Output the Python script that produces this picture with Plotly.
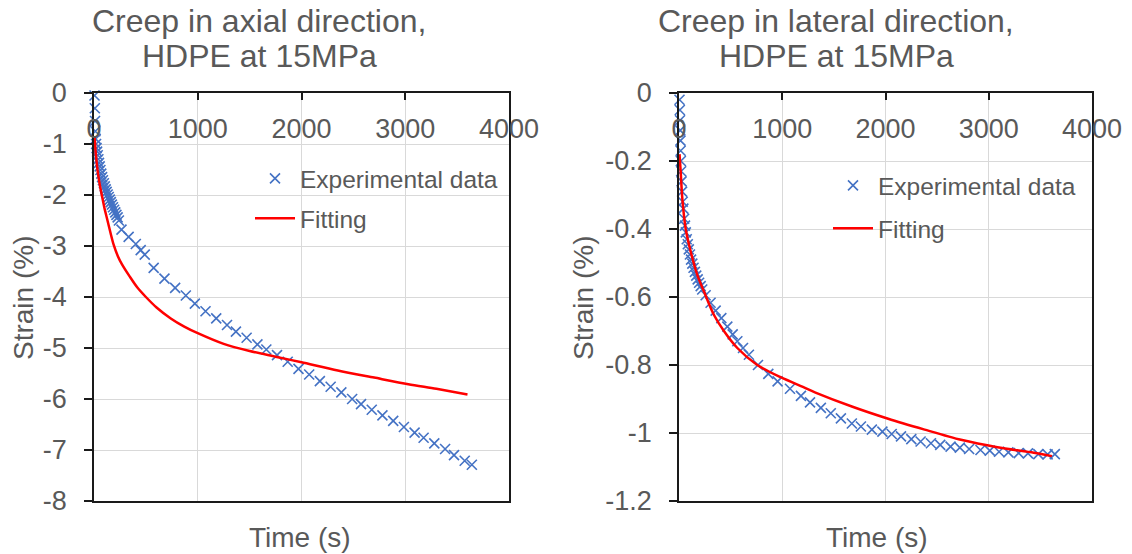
import plotly.graph_objects as go

# ---------------- data ----------------
# Axial direction (left)
axial_exp_t = [5, 8, 10, 13, 16, 20, 25, 30, 36, 42, 48, 55, 62, 70, 78, 86, 95, 104, 113, 122,
               132, 142, 152, 162, 172, 183, 194, 205, 216, 228, 240,
               265, 334, 403, 450, 489, 575, 679, 782, 885, 972, 1075, 1178, 1282, 1368, 1471,
               1575, 1661, 1764, 1867, 1971, 2074, 2177, 2281, 2384, 2488, 2574, 2677, 2780,
               2884, 2987, 3090, 3177, 3280, 3384, 3470, 3573, 3642]
axial_exp_y = [-0.05, -0.3, -0.55, -0.75, -0.9, -1.0, -1.08, -1.15, -1.22, -1.3, -1.37, -1.44,
               -1.51, -1.58, -1.65, -1.71, -1.77, -1.83, -1.89, -1.94,
               -1.99, -2.04, -2.09, -2.14, -2.19, -2.24, -2.29, -2.34, -2.39, -2.44, -2.5,
               -2.68, -2.82, -2.96, -3.08, -3.17, -3.43, -3.64, -3.82, -3.97, -4.13, -4.28, -4.42,
               -4.55, -4.68, -4.8, -4.93, -5.03, -5.14, -5.27, -5.41, -5.52, -5.65, -5.76, -5.87,
               -6.0, -6.1, -6.21, -6.32, -6.43, -6.55, -6.66, -6.76, -6.87, -6.98, -7.1, -7.21,
               -7.29]
axial_fit_t = [5, 20, 40, 60, 80, 100, 130, 160, 190, 230, 270, 345, 420, 500, 600, 740, 870,
               1000, 1250, 1500, 1750, 2000, 2350, 2700, 3030, 3300, 3600]
axial_fit_y = [-0.85, -1.25, -1.6, -1.85, -2.05, -2.25, -2.5, -2.75, -2.98, -3.2, -3.36, -3.6,
               -3.82, -4.0, -4.2, -4.42, -4.58, -4.71, -4.92, -5.06, -5.17, -5.28, -5.44, -5.58,
               -5.71, -5.8, -5.91]

# Lateral direction (right)
lateral_exp_t = [5, 8, 10, 12, 14, 16, 18, 21, 25, 30, 36, 42, 50, 58, 66, 75, 85, 95, 106, 117,
                 129, 141, 154, 167, 181, 195, 210, 225,
                 258, 306, 355, 410, 468, 520, 565, 620, 677, 765, 865, 955, 1075, 1181, 1269,
                 1374, 1470, 1568, 1674, 1762, 1868, 1970, 2060, 2150, 2250, 2340, 2440, 2530,
                 2630, 2720, 2810, 2920, 3010, 3100, 3190, 3290, 3380, 3480, 3570, 3640]
lateral_exp_y = [-0.02, -0.05, -0.08, -0.11, -0.14, -0.17, -0.2, -0.23, -0.26, -0.29, -0.32,
                 -0.34, -0.37, -0.39, -0.41, -0.43, -0.445, -0.46, -0.475, -0.49, -0.502, -0.514,
                 -0.526, -0.537, -0.548, -0.558, -0.568, -0.578,
                 -0.595, -0.617, -0.64, -0.662, -0.687, -0.71, -0.73, -0.75, -0.77, -0.8, -0.826,
                 -0.848, -0.87, -0.891, -0.91, -0.926, -0.942, -0.957, -0.972, -0.981, -0.99,
                 -0.996, -1.003, -1.01, -1.018, -1.025, -1.03, -1.035, -1.04, -1.043, -1.047,
                 -1.05, -1.052, -1.055, -1.057, -1.059, -1.06, -1.062, -1.063, -1.062]
lateral_fit_t = [5, 16, 32, 65, 113, 177, 242, 339, 435, 565, 758, 984, 1210, 1322, 1674, 2026,
                 2379, 2731, 3084, 3436, 3612]
lateral_fit_y = [-0.18, -0.23, -0.31, -0.4, -0.466, -0.535, -0.584, -0.653, -0.7, -0.75, -0.8,
                 -0.836, -0.866, -0.881, -0.922, -0.958, -0.99, -1.02, -1.042, -1.058, -1.068]

x_ticks = [0, 1000, 2000, 3000, 4000]
x_tick_labels = ["0", "1000", "2000", "3000", "4000"]
axial_y_ticks = [0, -1, -2, -3, -4, -5, -6, -7, -8]
axial_y_labels = ["0", "-1", "-2", "-3", "-4", "-5", "-6", "-7", "-8"]
lateral_y_ticks = [0, -0.2, -0.4, -0.6, -0.8, -1.0, -1.2]
lateral_y_labels = ["0", "-0.2", "-0.4", "-0.6", "-0.8", "-1", "-1.2"]

titles = [["Creep in axial direction,", "HDPE at 15MPa"],
          ["Creep in lateral direction,", "HDPE at 15MPa"]]
x_title = "Time (s)"
y_title = "Strain (%)"
exp_name = "Experimental data"
fit_name = "Fitting"

# ---------------- styling ----------------
W, H = 1132, 554
FONT = "Liberation Sans, Arial, sans-serif"
TXT = "#595959"
BLUE = "#4472C4"
RED = "#FF0000"
GRID = "#d9d9d9"
LINE = "#1a1a1a"

def px_x(p):
    return p / W

def px_y(p):
    return 1 - p / H

left_dom = [px_x(94), px_x(509)]
right_dom = [px_x(679), px_x(1092)]
y_dom = [px_y(501), px_y(93)]

fig = go.Figure()

marker = dict(symbol="x-thin", size=10, color=BLUE, line=dict(width=1.6, color=BLUE))

fig.add_trace(go.Scatter(x=axial_exp_t, y=axial_exp_y, mode="markers", name=exp_name,
                         marker=marker, xaxis="x", yaxis="y", legend="legend",
                         legendgroup="a1", cliponaxis=False))
fig.add_trace(go.Scatter(x=axial_fit_t, y=axial_fit_y, mode="lines", name=fit_name,
                         line=dict(color=RED, width=2.5, shape="spline", smoothing=0.8),
                         xaxis="x", yaxis="y",
                         legend="legend", legendgroup="a2", cliponaxis=False))
fig.add_trace(go.Scatter(x=lateral_exp_t, y=lateral_exp_y, mode="markers", name=exp_name,
                         marker=marker, xaxis="x2", yaxis="y2", legend="legend2",
                         legendgroup="b1", cliponaxis=False))
fig.add_trace(go.Scatter(x=lateral_fit_t, y=lateral_fit_y, mode="lines", name=fit_name,
                         line=dict(color=RED, width=2.5, shape="spline", smoothing=0.8),
                         xaxis="x2", yaxis="y2",
                         legend="legend2", legendgroup="b2", cliponaxis=False))

tickfont = dict(family=FONT, size=27, color=TXT)

def xaxis(domain, anchor):
    return dict(domain=domain, anchor=anchor, side="top", range=[0, 4000],
                tickvals=x_ticks, ticktext=x_tick_labels, tickfont=tickfont,
                ticks="inside", ticklen=7, tickwidth=1.5, tickcolor=LINE,
                ticklabelposition="inside", ticklabeloverflow="allow", ticklabelstandoff=22,
                showline=True, linecolor=LINE, linewidth=1.5, mirror=True,
                showgrid=True, gridcolor=GRID, gridwidth=1, zeroline=False, fixedrange=True,
                automargin=False)

def yaxis(anchor, rng, vals, labels):
    return dict(domain=y_dom, anchor=anchor, range=rng, tickvals=vals, ticktext=labels,
                tickfont=tickfont, ticks="outside", ticklen=8, tickwidth=1.5, tickcolor=LINE,
                ticklabelstandoff=12,
                showline=True, linecolor=LINE, linewidth=1.5, mirror=True,
                showgrid=True, gridcolor=GRID, gridwidth=1, zeroline=False, fixedrange=True,
                automargin=False)

legend_font = dict(family=FONT, size=24.5, color=TXT)

fig.update_layout(
    width=W, height=H, autosize=False,
    margin=dict(l=0, r=0, t=0, b=0, pad=0, autoexpand=False),
    paper_bgcolor="white", plot_bgcolor="white", showlegend=True,
    xaxis=xaxis(left_dom, "y"),
    yaxis=yaxis("x", [-8, 0], axial_y_ticks, axial_y_labels),
    xaxis2=xaxis(right_dom, "y2"),
    yaxis2=yaxis("x2", [-1.2, 0], lateral_y_ticks, lateral_y_labels),
    legend=dict(x=px_x(250), y=px_y(156), xanchor="left", yanchor="top",
                bgcolor="rgba(0,0,0,0)", font=legend_font, traceorder="grouped",
                tracegroupgap=5, itemwidth=40),
    legend2=dict(x=px_x(828), y=px_y(163), xanchor="left", yanchor="top",
                 bgcolor="rgba(0,0,0,0)", font=legend_font, traceorder="grouped",
                 tracegroupgap=8, itemwidth=40),
)

title_font = dict(family=FONT, size=32, color=TXT)
axis_title_font = dict(family=FONT, size=28, color=TXT)

annotations = []
for (cx, lines) in [(259, titles[0]), (836, titles[1])]:
    for i, t in enumerate(lines):
        annotations.append(dict(text=t, x=px_x(cx), y=px_y(21 + 35 * i), xref="paper",
                                yref="paper", xanchor="center", yanchor="middle",
                                showarrow=False, font=title_font))
for cx in [300, 877]:
    annotations.append(dict(text=x_title, x=px_x(cx), y=px_y(537), xref="paper", yref="paper",
                            xanchor="center", yanchor="middle", showarrow=False,
                            font=axis_title_font))
for cx in [23, 583]:
    annotations.append(dict(text=y_title, x=px_x(cx), y=px_y(298), xref="paper", yref="paper",
                            xanchor="center", yanchor="middle", showarrow=False,
                            textangle=-90, font=axis_title_font))
fig.update_layout(annotations=annotations)

fig.write_html("out.html")
